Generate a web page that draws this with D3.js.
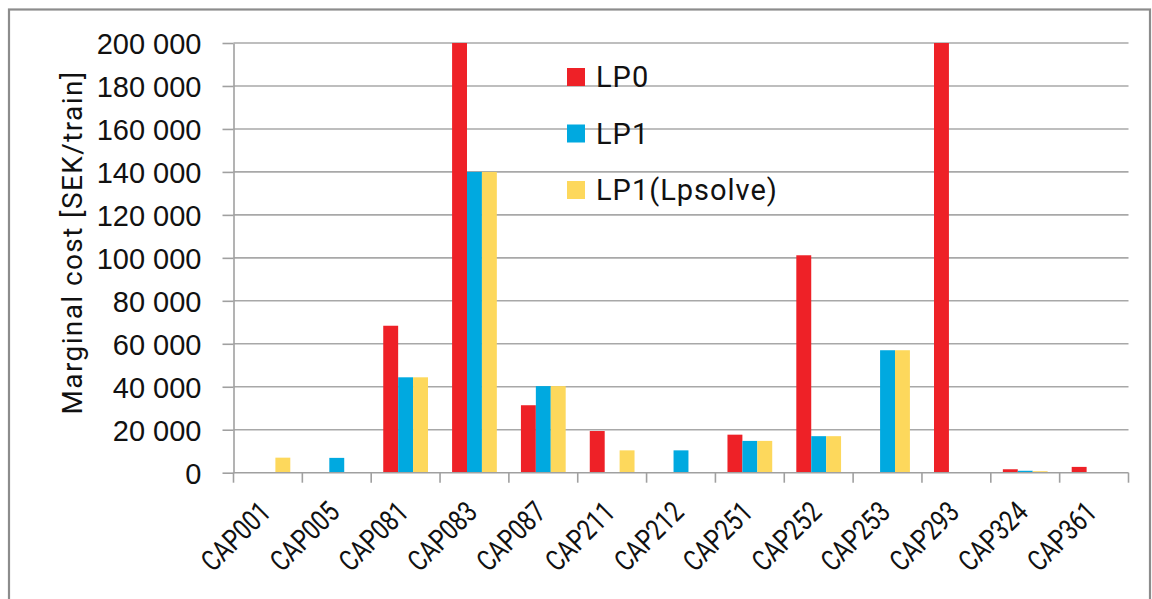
<!DOCTYPE html>
<html lang="en">
<head>
<meta charset="UTF-8">
<title>Marginal cost per train</title>
<script src="https://d3js.org/d3.v7.min.js"></script>
<style>
    body { margin: 0; background: #fff; }
    svg { display: block; font-family: Roboto, "DejaVu Sans", sans-serif; }
    .grid line { stroke: #a8a8a8; stroke-width: 1.6; }
    .axis path, .axis line { stroke: #a0a0a0; stroke-width: 1.6; }
    .axis text { fill: #111; font-size: 29px; }
    .legend text { fill: #111; font-size: 29px; letter-spacing: 1px; }
</style>
</head>
<body>
<div id="chart"></div>
<script>
    // capacity constraints on the x axis
    const categories = ["CAP001", "CAP005", "CAP081", "CAP083", "CAP087", "CAP211", "CAP212",
                        "CAP251", "CAP252", "CAP253", "CAP293", "CAP324", "CAP361"];
    const seriesNames = ["LP0", "LP1", "LP1(Lpsolve)"];
    const lp0 =       [0,    0,    68400, 200000, 31400, 19400, 0,     17700, 101200, 0,     200000, 1600, 2700];
    const lp1 =       [0,    6900, 44400, 140000, 40300, 0,     10400, 14800, 17000,  57000, 0,      900,  0];
    const lpSolve =   [7000, 0,    44400, 140000, 40300, 10400, 0,     14800, 17000,  57000, 0,      700,  0];
    const yTicks = [0, 20000, 40000, 60000, 80000, 100000, 120000, 140000, 160000, 180000, 200000];
    const colors = ["#ee2127", "#00a9e0", "#fdd85c"];

    const width = 1152, height = 599;
    const plotLeft = 233.5, plotRight = 1128.5, plotTop = 43, plotBottom = 472.7;

    const svg = d3.select("#chart").append("svg")
        .attr("width", width)
        .attr("height", height);

    // outer frame
    svg.append("rect")
        .attr("x", 9).attr("y", 9.5)
        .attr("width", 1141).attr("height", 620)
        .attr("fill", "none")
        .attr("stroke", "#8c8c8c")
        .attr("stroke-width", 2.2);

    const x0 = d3.scaleBand().domain(categories).range([plotLeft, plotRight]).padding(0);
    const bw = x0.bandwidth();
    const x1 = d3.scaleBand().domain(seriesNames).range([bw * 0.175, bw * 0.825]).padding(0);
    const y = d3.scaleLinear().domain([0, 200000]).range([plotBottom, plotTop]);

    const fmt = d3.formatLocale({ decimal: ",", thousands: " ", grouping: [3], currency: ["", ""] }).format(",d");

    // gridlines
    svg.append("g").attr("class", "grid")
        .selectAll("line")
        .data(yTicks.filter(d => d > 0))
        .join("line")
        .attr("x1", plotLeft).attr("x2", plotRight)
        .attr("y1", d => y(d)).attr("y2", d => y(d));

    // bars
    const rows = categories.map((c, i) => ({ cat: c, vals: [lp0[i], lp1[i], lpSolve[i]] }));
    const groups = svg.append("g").selectAll("g")
        .data(rows)
        .join("g")
        .attr("transform", d => `translate(${x0(d.cat)},0)`);

    groups.selectAll("rect")
        .data(d => d.vals.map((v, j) => ({ name: seriesNames[j], v: v, j: j })).filter(e => e.v > 0))
        .join("rect")
        .attr("x", d => x1(d.name))
        .attr("width", x1.bandwidth())
        .attr("y", d => y(d.v))
        .attr("height", d => y(0) - y(d.v))
        .attr("fill", d => colors[d.j]);

    // y axis
    const yAxis = svg.append("g").attr("class", "axis")
        .attr("transform", `translate(${plotLeft},0)`)
        .call(d3.axisLeft(y).tickValues(yTicks).tickFormat(fmt).tickSize(11).tickPadding(21).tickSizeOuter(0));
    yAxis.selectAll("text").attr("dy", "0.36em");

    // x axis
    const xAxis = svg.append("g").attr("class", "axis")
        .attr("transform", `translate(0,${plotBottom})`);
    xAxis.append("line")
        .attr("x1", plotLeft).attr("x2", plotRight)
        .attr("y1", 0).attr("y2", 0);
    xAxis.selectAll("line.tick")
        .data(d3.range(categories.length + 1))
        .join("line")
        .attr("class", "tick")
        .attr("x1", i => plotLeft + i * bw).attr("x2", i => plotLeft + i * bw)
        .attr("y1", 0).attr("y2", 10);
    // labels are narrowed a little to look like the condensed original face
    xAxis.selectAll("text")
        .data(categories)
        .join("text")
        .attr("text-anchor", "end")
        .attr("transform", d => `translate(${x0(d) + bw / 2 + 4.5},41) rotate(-45) scale(0.8,1)`)
        .text(d => d);

    // y axis title
    svg.append("text")
        .attr("transform", "translate(82,242.5) rotate(-90)")
        .attr("text-anchor", "middle")
        .attr("font-size", 28)
        .attr("letter-spacing", "1.4px")
        .attr("fill", "#111")
        .text("Marginal cost [SEK/train]");

    // legend
    const legend = svg.append("g").attr("class", "legend")
        .attr("transform", "translate(567,68)");
    const item = legend.selectAll("g")
        .data(seriesNames)
        .join("g")
        .attr("transform", (d, i) => `translate(0,${i * 56.5})`);
    item.append("rect")
        .attr("width", 18).attr("height", 18)
        .attr("fill", (d, i) => colors[i]);
    item.append("text")
        .attr("x", 29).attr("y", 9)
        .attr("dy", "0.36em")
        .text(d => d);
</script>
</body>
</html>
